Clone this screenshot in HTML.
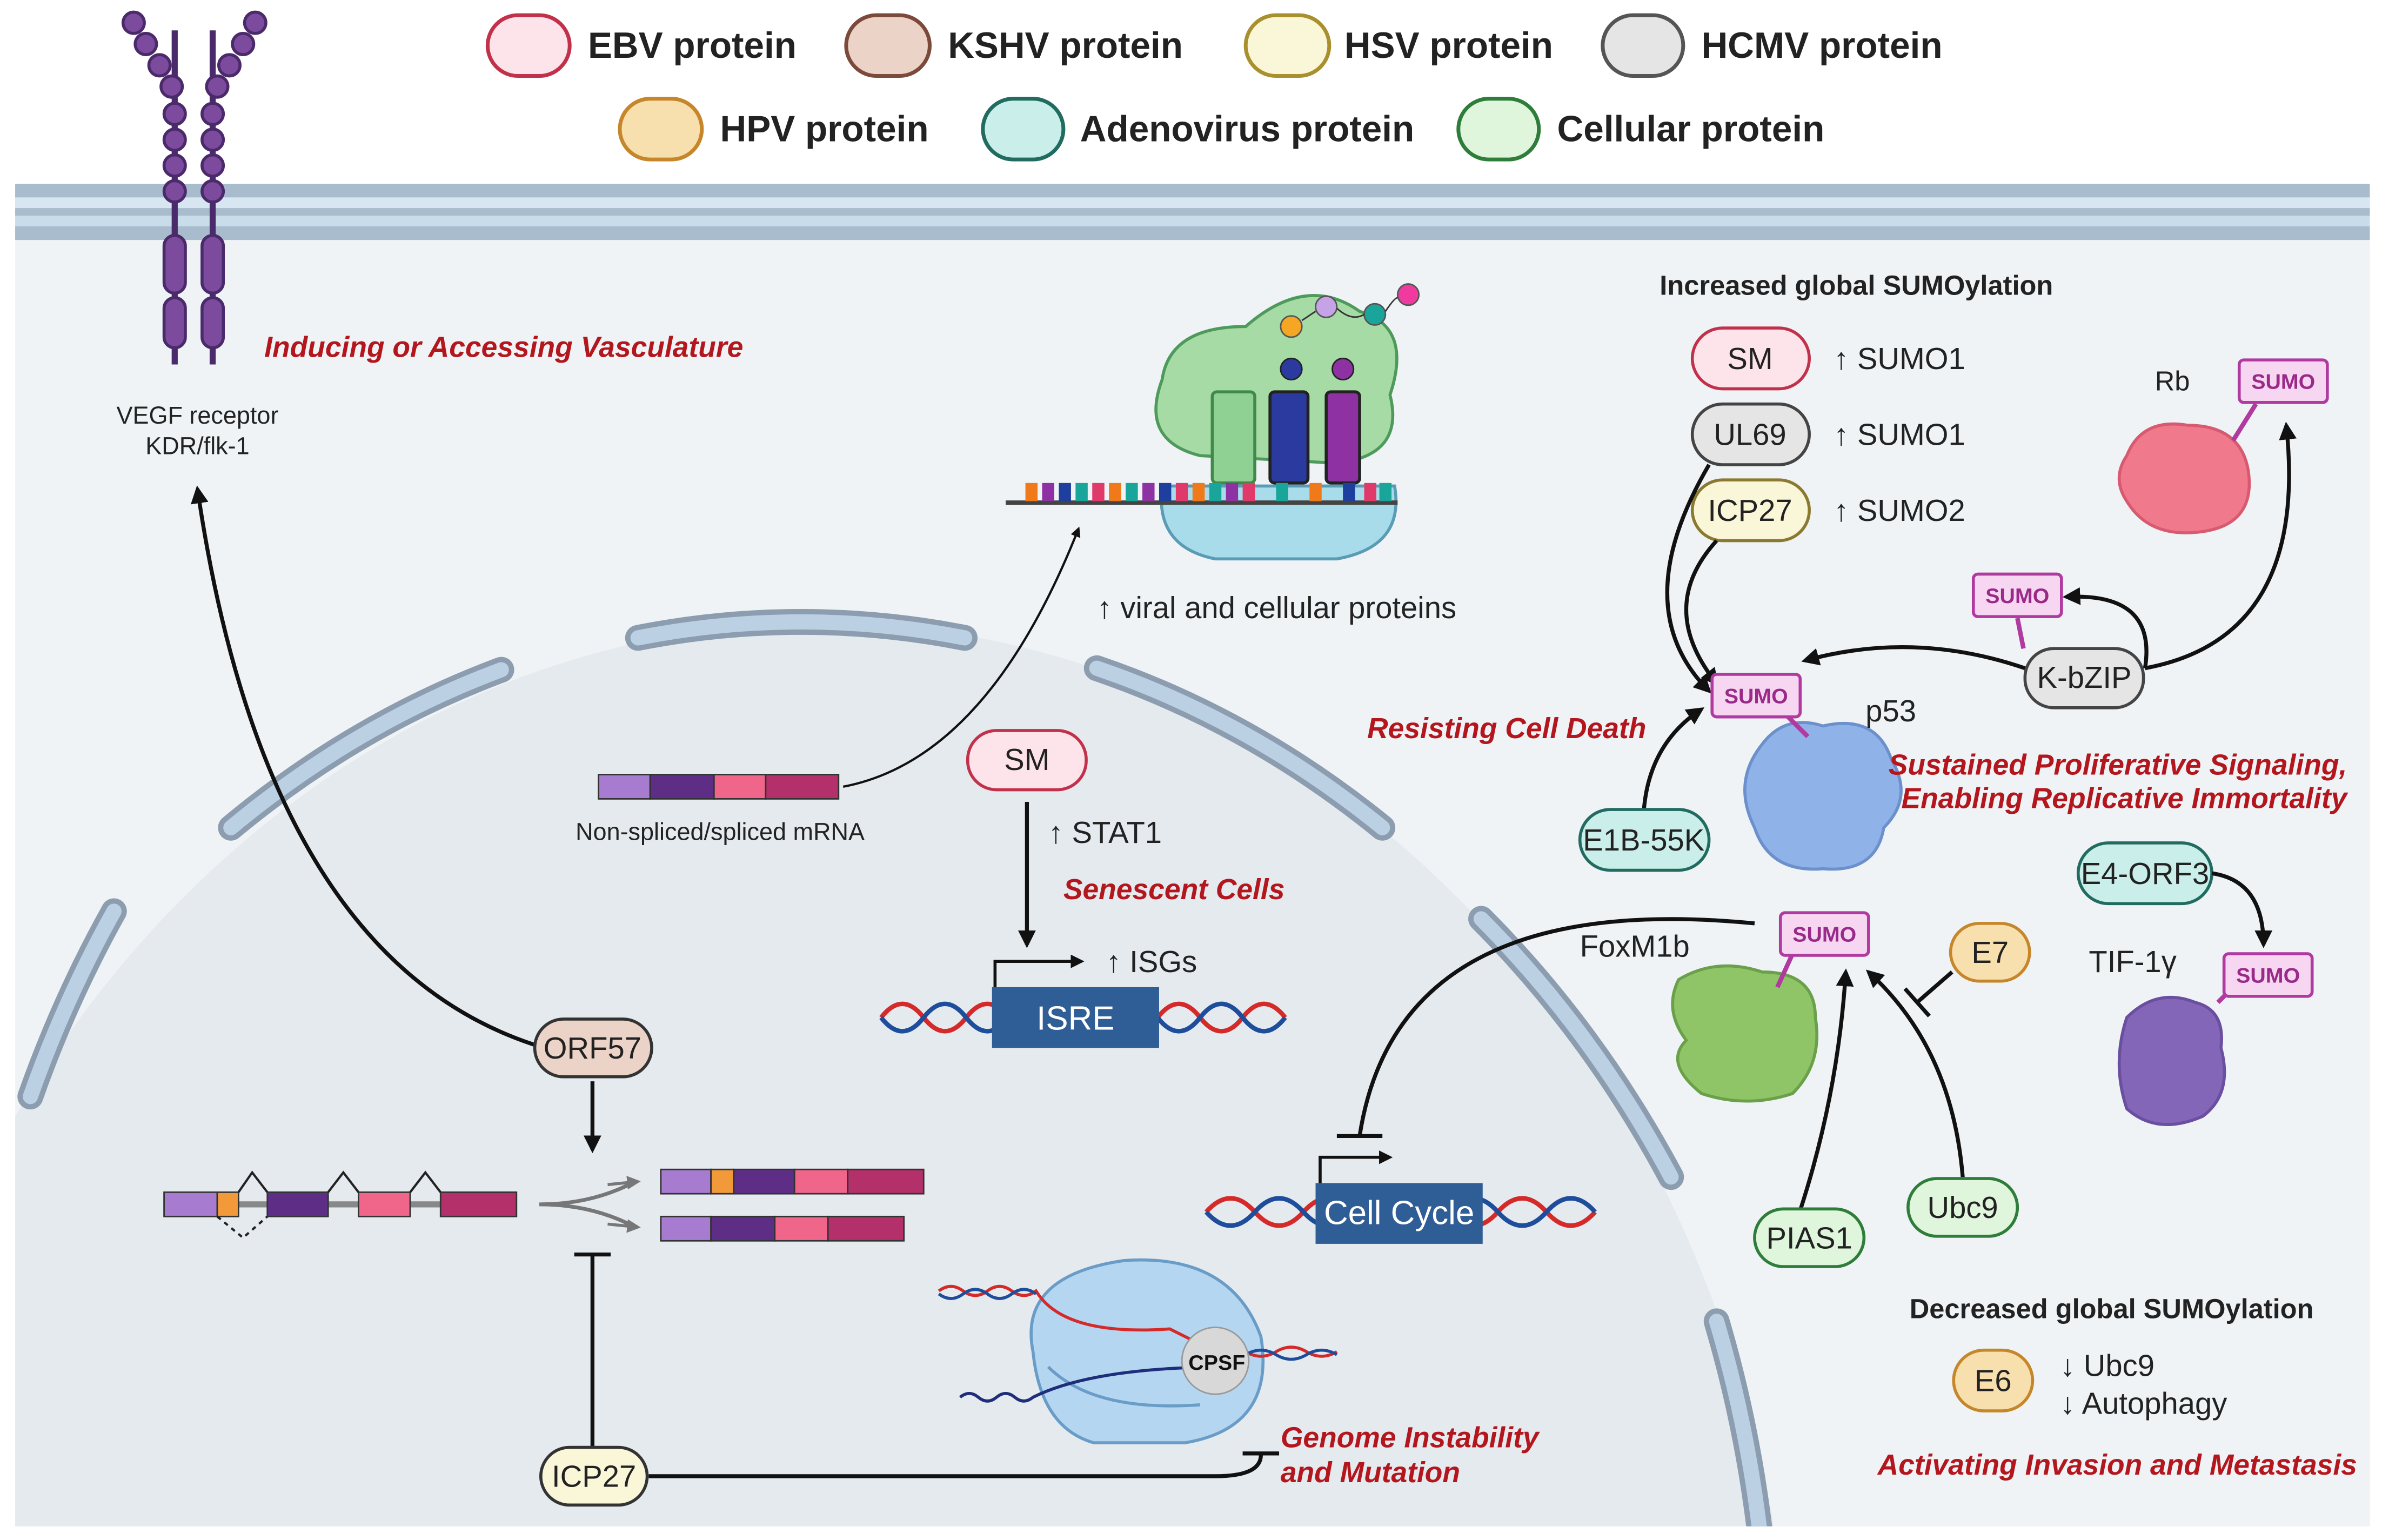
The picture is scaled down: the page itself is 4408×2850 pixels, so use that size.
<!DOCTYPE html>
<html><head><meta charset="utf-8"><style>
html,body{margin:0;padding:0;background:#fff;width:4408px;height:2850px;overflow:hidden}
svg{display:block}
text{font-family:"Liberation Sans",Arial,sans-serif}
.lg{font-size:24px;font-weight:bold;fill:#222}
.red{font-size:19px;font-weight:bold;font-style:italic;fill:#b3161d}
.t{font-size:20px;fill:#222}
.s{font-size:16px;fill:#222}
.sumo{font-size:14px;font-weight:bold;fill:#9a2a8a}
.ar{fill:none;stroke:#111;stroke-width:2.6}
</style></head><body>
<svg width="4408" height="2850" viewBox="0 0 1568 1014" preserveAspectRatio="none" xmlns="http://www.w3.org/2000/svg">
<defs>
<marker id="a" viewBox="0 0 10 10" refX="8" refY="5" markerWidth="4.5" markerHeight="4.5" orient="auto"><path d="M0,0L10,5L0,10z" fill="#111"/></marker>
<marker id="g" viewBox="0 0 10 10" refX="8" refY="5" markerWidth="4.5" markerHeight="4.5" orient="auto"><path d="M0,0L10,5L0,10z" fill="#777"/></marker>
<clipPath id="cell"><rect x="10" y="158" width="1550" height="847"/></clipPath>
</defs>
<rect width="1568" height="1014" fill="#fff"/>
<rect x="10" y="158" width="1550" height="847" fill="#eff3f6"/>
<g clip-path="url(#cell)">
<ellipse cx="540" cy="1150" rx="640" ry="740" fill="#e5eaee"/>
<g fill="none" stroke-linecap="round">
<g stroke="#8c9db0" stroke-width="17">
<path d="M20 722 A640 740 0 0 1 75 600"/><path d="M152 545 A640 740 0 0 1 330 441"/><path d="M420 420 A640 740 0 0 1 635 420"/><path d="M722 440 A640 740 0 0 1 910 545"/><path d="M975 605 A640 740 0 0 1 1100 775"/><path d="M1130 870 A640 740 0 0 1 1158 1005"/>
</g>
<g stroke="#bcd0e4" stroke-width="10">
<path d="M20 722 A640 740 0 0 1 75 600"/><path d="M152 545 A640 740 0 0 1 330 441"/><path d="M420 420 A640 740 0 0 1 635 420"/><path d="M722 440 A640 740 0 0 1 910 545"/><path d="M975 605 A640 740 0 0 1 1100 775"/><path d="M1130 870 A640 740 0 0 1 1158 1005"/>
</g></g>
</g>
<rect x="10" y="121" width="1550" height="37" fill="#c9dcea"/>
<rect x="10" y="121" width="1550" height="9" fill="#a8bccd"/>
<rect x="10" y="137" width="1550" height="5" fill="#a8bccd"/>
<rect x="10" y="149" width="1550" height="9" fill="#a8bccd"/>
<rect x="10" y="130" width="1550" height="7" fill="#d8e6f1"/>

<g stroke-width="2.5">
<rect x="321" y="10" width="54" height="40" rx="20" fill="#fde4ea" stroke="#c2314b"/>
<rect x="557" y="10" width="55" height="40" rx="20" fill="#ebd3c7" stroke="#7b4a3b"/>
<rect x="820" y="10" width="55" height="40" rx="20" fill="#faf6d8" stroke="#a8902e"/>
<rect x="1055" y="10" width="53" height="40" rx="20" fill="#e5e5e5" stroke="#555"/>
<rect x="408" y="65" width="54" height="40" rx="20" fill="#f8dfae" stroke="#c6862a"/>
<rect x="647" y="65" width="53" height="40" rx="20" fill="#caeee9" stroke="#226b60"/>
<rect x="960" y="65" width="53" height="40" rx="20" fill="#dff5dc" stroke="#2f7d3a"/>
</g>
<text class="lg" x="387" y="38">EBV protein</text>
<text class="lg" x="624" y="38">KSHV protein</text>
<text class="lg" x="885" y="38">HSV protein</text>
<text class="lg" x="1120" y="38">HCMV protein</text>
<text class="lg" x="474" y="93">HPV protein</text>
<text class="lg" x="711" y="93">Adenovirus protein</text>
<text class="lg" x="1025" y="93">Cellular protein</text>

<g stroke="#4b2a6b" stroke-width="2" fill="#7d4b9e">
<line x1="115" y1="20" x2="115" y2="240" stroke-width="4"/><line x1="140" y1="20" x2="140" y2="240" stroke-width="4"/>
<circle cx="88" cy="15" r="7"/><circle cx="96" cy="29" r="7"/><circle cx="105" cy="43" r="7"/><circle cx="113" cy="57" r="7"/>
<circle cx="168" cy="15" r="7"/><circle cx="160" cy="29" r="7"/><circle cx="151" cy="43" r="7"/><circle cx="143" cy="57" r="7"/>
<circle cx="115" cy="75" r="7"/><circle cx="115" cy="92" r="7"/><circle cx="115" cy="109" r="7"/><circle cx="115" cy="126" r="7"/>
<circle cx="140" cy="75" r="7"/><circle cx="140" cy="92" r="7"/><circle cx="140" cy="109" r="7"/><circle cx="140" cy="126" r="7"/>
<rect x="108" y="155" width="14" height="38" rx="7"/><rect x="133" y="155" width="14" height="38" rx="7"/>
<rect x="108" y="196" width="14" height="33" rx="7"/><rect x="133" y="196" width="14" height="33" rx="7"/>
</g>
<text class="s" x="130" y="279" text-anchor="middle">VEGF receptor</text>
<text class="s" x="130" y="299" text-anchor="middle">KDR/flk-1</text>
<text class="red" x="174" y="235">Inducing or Accessing Vasculature</text>

<path class="ar" d="M352 688 Q175 630 130 322" marker-end="url(#a)"/>
<rect x="352" y="671" width="77" height="38" rx="19" fill="#ebd3c7" stroke="#333" stroke-width="2"/>
<text class="t" x="390" y="697" text-anchor="middle">ORF57</text>
<path class="ar" d="M390 712 V757" marker-end="url(#a)"/>

<line x1="108" y1="793" x2="340" y2="793" stroke="#888" stroke-width="4"/>
<g stroke="#333" stroke-width="1">
<rect x="108" y="785" width="35" height="16" fill="#a77bd0"/>
<rect x="143" y="785" width="14" height="16" fill="#f29a3a"/>
<rect x="176" y="785" width="40" height="16" fill="#5e2e86"/>
<rect x="236" y="785" width="34" height="16" fill="#f0668b"/>
<rect x="290" y="785" width="50" height="16" fill="#b4306a"/>
</g>
<path d="M157 785 L166 772 L176 785 M216 785 L226 772 L236 785 M270 785 L280 772 L290 785" fill="none" stroke="#222" stroke-width="1.5"/>
<path d="M143 801 L160 815 L176 801" fill="none" stroke="#222" stroke-width="1.5" stroke-dasharray="3 3"/>
<path d="M355 793 Q390 793 418 778 M355 793 Q390 793 418 808" fill="none" stroke="#777" stroke-width="2.5"/>
<path d="M400 780 L420 778" stroke="#777" stroke-width="2" marker-end="url(#g)"/>
<path d="M400 806 L420 808" stroke="#777" stroke-width="2" marker-end="url(#g)"/>
<g stroke="#333" stroke-width="1">
<rect x="435" y="770" width="33" height="16" fill="#a77bd0"/><rect x="468" y="770" width="15" height="16" fill="#f29a3a"/><rect x="483" y="770" width="40" height="16" fill="#5e2e86"/><rect x="523" y="770" width="35" height="16" fill="#f0668b"/><rect x="558" y="770" width="50" height="16" fill="#b4306a"/>
<rect x="435" y="801" width="33" height="16" fill="#a77bd0"/><rect x="468" y="801" width="42" height="16" fill="#5e2e86"/><rect x="510" y="801" width="35" height="16" fill="#f0668b"/><rect x="545" y="801" width="50" height="16" fill="#b4306a"/>
</g>

<path class="ar" d="M390 955 V826 M378 826 H402"/>
<path class="ar" d="M427 972 H800 Q830 972 830 958 M818 957 H842"/>
<rect x="356" y="953" width="70" height="38" rx="19" fill="#faf6d8" stroke="#333" stroke-width="2"/>
<text class="t" x="391" y="979" text-anchor="middle">ICP27</text>

<g stroke="#333" stroke-width="1"><rect x="394" y="510" width="34" height="16" fill="#a77bd0"/><rect x="428" y="510" width="42" height="16" fill="#5e2e86"/><rect x="470" y="510" width="34" height="16" fill="#f0668b"/><rect x="504" y="510" width="48" height="16" fill="#b4306a"/></g>
<text class="s" x="474" y="553" text-anchor="middle">Non-spliced/spliced mRNA</text>
<path d="M555 518 Q650 500 710 348" fill="none" stroke="#111" stroke-width="1.5" marker-end="url(#a)"/>

<path d="M765 250 Q770 215 820 215 Q860 180 895 205 Q930 215 915 260 Q925 300 880 305 L790 300 Q750 290 765 250z" fill="#a6dba6" stroke="#4e9a5a" stroke-width="2"/>
<path d="M765 320 Q760 360 800 368 L880 368 Q925 360 918 320z" fill="#a9dcea" stroke="#5a9bb5" stroke-width="2"/>
<rect x="798" y="258" width="28" height="60" rx="3" fill="#8fd192" stroke="#3f8a4a" stroke-width="2"/>
<rect x="836" y="258" width="25" height="60" rx="3" fill="#2b3a9f" stroke="#222" stroke-width="2"/>
<rect x="873" y="258" width="22" height="60" rx="3" fill="#8e32a3" stroke="#222" stroke-width="2"/>
<circle cx="850" cy="243" r="7" fill="#2b3a9f" stroke="#222"/><circle cx="884" cy="243" r="7" fill="#8e32a3" stroke="#222"/>
<circle cx="850" cy="215" r="7" fill="#f5a623" stroke="#555"/><circle cx="873" cy="202" r="7" fill="#c6a3e6" stroke="#555"/><circle cx="905" cy="207" r="7" fill="#1aa59a" stroke="#555"/><circle cx="927" cy="194" r="7" fill="#f03aa0" stroke="#555"/>
<path d="M857 211 L866 205 M880 203 Q890 212 898 207 M912 205 Q918 196 920 196" stroke="#333" fill="none"/>
<line x1="662" y1="331" x2="920" y2="331" stroke="#444" stroke-width="3"/>
<g>
<rect x="675" y="318" width="8" height="12" fill="#f07a1a"/><rect x="686" y="318" width="8" height="12" fill="#8e32a3"/><rect x="697" y="318" width="8" height="12" fill="#1f3f9f"/><rect x="708" y="318" width="8" height="12" fill="#1aa59a"/><rect x="719" y="318" width="8" height="12" fill="#e03a6a"/><rect x="730" y="318" width="8" height="12" fill="#f07a1a"/><rect x="741" y="318" width="8" height="12" fill="#1aa59a"/><rect x="752" y="318" width="8" height="12" fill="#8e32a3"/><rect x="763" y="318" width="8" height="12" fill="#1f3f9f"/><rect x="774" y="318" width="8" height="12" fill="#e03a6a"/><rect x="785" y="318" width="8" height="12" fill="#f07a1a"/><rect x="796" y="318" width="8" height="12" fill="#1aa59a"/><rect x="807" y="318" width="8" height="12" fill="#8e32a3"/><rect x="818" y="318" width="8" height="12" fill="#e03a6a"/><rect x="840" y="318" width="8" height="12" fill="#1aa59a"/><rect x="862" y="318" width="8" height="12" fill="#f07a1a"/><rect x="884" y="318" width="8" height="12" fill="#1f3f9f"/><rect x="898" y="318" width="8" height="12" fill="#e03a6a"/><rect x="908" y="318" width="8" height="12" fill="#1aa59a"/>
</g>
<text class="t" x="722" y="407">↑ viral and cellular proteins</text>

<rect x="637" y="481" width="78" height="39" rx="19" fill="#fde4ea" stroke="#c2314b" stroke-width="2"/>
<text class="t" x="676" y="507" text-anchor="middle">SM</text>
<text class="t" x="690" y="555">↑ STAT1</text>
<path class="ar" d="M676 528 V622" marker-end="url(#a)"/>
<text class="red" x="700" y="592">Senescent Cells</text>
<path d="M580 670 q14 -18 28 0 t28 0 t28 0 M762 670 q14 -18 28 0 t28 0 t28 0" fill="none" stroke="#d42a2a" stroke-width="3"/>
<path d="M580 670 q14 18 28 0 t28 0 t28 0 M762 670 q14 18 28 0 t28 0 t28 0" fill="none" stroke="#1e4d9b" stroke-width="3"/>
<rect x="653" y="650" width="110" height="40" fill="#2f5d95"/>
<text x="708" y="678" text-anchor="middle" style="font-size:22px;fill:#fff">ISRE</text>
<path d="M655 650 V633 H712" fill="none" stroke="#111" stroke-width="2" marker-end="url(#a)"/>
<text class="t" x="728" y="640">↑ ISGs</text>

<path d="M794 798 q16 -18 32 0 t32 0 t32 0 t32 0 t32 0 t32 0 t32 0 t32 0" fill="none" stroke="#d42a2a" stroke-width="3"/>
<path d="M794 798 q16 18 32 0 t32 0 t32 0 t32 0 t32 0 t32 0 t32 0 t32 0" fill="none" stroke="#1e4d9b" stroke-width="3"/>
<rect x="866" y="779" width="110" height="40" fill="#2f5d95"/>
<text x="921" y="806" text-anchor="middle" style="font-size:22px;fill:#fff">Cell Cycle</text>
<path d="M869 779 V762 H915" fill="none" stroke="#111" stroke-width="2" marker-end="url(#a)"/>
<path class="ar" d="M1155 608 Q920 585 895 748 M880 748 H910"/>

<path d="M680 890 Q670 840 740 830 Q810 825 830 880 Q840 940 780 950 L720 950 Q685 940 680 890z" fill="#b5d6f0" stroke="#6a9cc8" stroke-width="2"/>
<path d="M690 900 Q720 930 790 925" fill="none" stroke="#6a9cc8" stroke-width="2"/>
<path d="M618 850 q8 -6 16 0 t16 0 t16 0 t16 0 Q700 880 770 875 L800 890 q10 -6 20 0 t20 0 t20 0 t20 0" fill="none" stroke="#d42a2a" stroke-width="2"/>
<path d="M618 852 q8 6 16 0 t16 0 t16 0 t16 0 M800 892 q10 6 20 0 t20 0 t20 0 t20 0" fill="none" stroke="#1e4d9b" stroke-width="2"/>
<path d="M632 920 q6 -5 12 0 t12 0 t12 0 t12 0 Q720 900 810 900" fill="none" stroke="#1e2e7a" stroke-width="2"/>
<circle cx="800" cy="896" r="22" fill="#d8d8d8" stroke="#999"/>
<text x="801" y="902" text-anchor="middle" style="font-size:14px;font-weight:bold;fill:#111">CPSF</text>
<text class="red" x="843" y="953">Genome Instability</text>
<text class="red" x="843" y="976">and Mutation</text>

<text x="1222" y="194" text-anchor="middle" style="font-size:18px;font-weight:bold;fill:#222">Increased global SUMOylation</text>
<rect x="1114" y="216" width="77" height="40" rx="20" fill="#fde4ea" stroke="#c2314b" stroke-width="2"/>
<text class="t" x="1152" y="243" text-anchor="middle">SM</text>
<rect x="1114" y="266" width="77" height="40" rx="20" fill="#e5e5e5" stroke="#444" stroke-width="2"/>
<text class="t" x="1152" y="293" text-anchor="middle">UL69</text>
<rect x="1114" y="316" width="77" height="40" rx="20" fill="#faf6d8" stroke="#8a7a30" stroke-width="2"/>
<text class="t" x="1152" y="343" text-anchor="middle">ICP27</text>
<text class="t" x="1207" y="243">↑ SUMO1</text>
<text class="t" x="1207" y="293">↑ SUMO1</text>
<text class="t" x="1207" y="343">↑ SUMO2</text>
<path class="ar" d="M1125 306 Q1070 400 1125 455" marker-end="url(#a)"/>
<path class="ar" d="M1130 356 Q1090 400 1130 450" marker-end="url(#a)"/>

<path d="M1160 490 Q1175 470 1200 478 Q1235 470 1245 500 Q1260 525 1240 545 Q1235 575 1200 572 Q1165 575 1155 545 Q1140 515 1160 490z" fill="#8fb3e8" stroke="#6b90cc" stroke-width="2"/>
<line x1="1170" y1="465" x2="1190" y2="485" stroke="#b03aa0" stroke-width="3"/>
<rect x="1127" y="444" width="58" height="28" rx="3" fill="#f7d6f1" stroke="#b03aa0" stroke-width="2"/>
<text class="sumo" x="1156" y="463" text-anchor="middle">SUMO</text>
<text class="t" x="1228" y="475">p53</text>
<text class="red" x="900" y="486">Resisting Cell Death</text>
<text class="red" x="1545" y="510" text-anchor="end">Sustained Proliferative Signaling,</text>
<text class="red" x="1545" y="532" text-anchor="end">Enabling Replicative Immortality</text>
<path class="ar" d="M1082 535 Q1085 490 1120 467" marker-end="url(#a)"/>
<rect x="1040" y="533" width="85" height="40" rx="20" fill="#caeee9" stroke="#226b60" stroke-width="2"/>
<text class="t" x="1082" y="560" text-anchor="middle">E1B-55K</text>

<path class="ar" d="M1333 440 Q1260 415 1188 435" marker-end="url(#a)"/>
<path class="ar" d="M1412 440 Q1420 390 1360 393" marker-end="url(#a)"/>
<path class="ar" d="M1412 440 Q1520 420 1505 280" marker-end="url(#a)"/>
<line x1="1328" y1="407" x2="1332" y2="427" stroke="#b03aa0" stroke-width="3"/>
<rect x="1299" y="378" width="58" height="28" rx="3" fill="#f7d6f1" stroke="#b03aa0" stroke-width="2"/>
<text class="sumo" x="1328" y="397" text-anchor="middle">SUMO</text>
<rect x="1333" y="427" width="78" height="39" rx="19" fill="#e5e5e5" stroke="#444" stroke-width="2"/>
<text class="t" x="1372" y="453" text-anchor="middle">K-bZIP</text>
<path d="M1400 300 Q1410 275 1440 280 Q1475 280 1480 310 Q1485 345 1450 350 Q1415 355 1400 330 Q1390 315 1400 300z" fill="#f07a8c" stroke="#d85a70" stroke-width="2"/>
<line x1="1470" y1="290" x2="1485" y2="266" stroke="#b03aa0" stroke-width="3"/>
<rect x="1474" y="237" width="58" height="28" rx="3" fill="#f7d6f1" stroke="#b03aa0" stroke-width="2"/>
<text class="sumo" x="1503" y="256" text-anchor="middle">SUMO</text>
<text class="t" x="1430" y="257" text-anchor="middle" style="font-size:18px">Rb</text>

<path d="M1105 645 Q1130 630 1160 640 Q1195 640 1195 670 Q1200 700 1180 720 Q1150 730 1120 720 Q1095 700 1110 685 Q1095 665 1105 645z" fill="#8fc467" stroke="#6aa04a" stroke-width="2"/>
<line x1="1180" y1="628" x2="1170" y2="650" stroke="#b03aa0" stroke-width="3"/>
<rect x="1172" y="601" width="58" height="28" rx="3" fill="#f7d6f1" stroke="#b03aa0" stroke-width="2"/>
<text class="sumo" x="1201" y="620" text-anchor="middle">SUMO</text>
<text class="t" x="1040" y="630">FoxM1b</text>
<path class="ar" d="M1285 640 L1262 660 M1254 651 L1270 669"/>
<rect x="1284" y="608" width="52" height="38" rx="19" fill="#f8dfae" stroke="#c6862a" stroke-width="2"/>
<text class="t" x="1310" y="634" text-anchor="middle">E7</text>
<path class="ar" d="M1185 797 Q1210 720 1215 640" marker-end="url(#a)"/>
<path class="ar" d="M1292 775 Q1285 690 1230 640" marker-end="url(#a)"/>
<rect x="1155" y="796" width="72" height="38" rx="19" fill="#dff5dc" stroke="#2f7d3a" stroke-width="2"/>
<text class="t" x="1191" y="822" text-anchor="middle">PIAS1</text>
<rect x="1256" y="776" width="72" height="38" rx="19" fill="#dff5dc" stroke="#2f7d3a" stroke-width="2"/>
<text class="t" x="1292" y="802" text-anchor="middle">Ubc9</text>

<rect x="1368" y="555" width="88" height="40" rx="20" fill="#caeee9" stroke="#226b60" stroke-width="2"/>
<text class="t" x="1412" y="582" text-anchor="middle">E4-ORF3</text>
<path class="ar" d="M1456 575 Q1490 580 1490 622" marker-end="url(#a)"/>
<text class="t" x="1375" y="640">TIF-1γ</text>
<path d="M1400 670 Q1420 650 1445 660 Q1465 665 1462 690 Q1470 720 1450 735 Q1420 748 1400 730 Q1390 700 1400 670z" fill="#8466b8" stroke="#6a4ea0" stroke-width="2"/>
<line x1="1460" y1="660" x2="1470" y2="650" stroke="#b03aa0" stroke-width="3"/>
<rect x="1464" y="628" width="58" height="28" rx="3" fill="#f7d6f1" stroke="#b03aa0" stroke-width="2"/>
<text class="sumo" x="1493" y="647" text-anchor="middle">SUMO</text>

<text x="1390" y="868" text-anchor="middle" style="font-size:18px;font-weight:bold;fill:#222">Decreased global SUMOylation</text>
<rect x="1286" y="889" width="52" height="40" rx="20" fill="#f8dfae" stroke="#c6862a" stroke-width="2"/>
<text class="t" x="1312" y="916" text-anchor="middle">E6</text>
<text class="t" x="1356" y="906">↓ Ubc9</text>
<text class="t" x="1356" y="931">↓ Autophagy</text>
<text class="red" x="1236" y="971">Activating Invasion and Metastasis</text>
</svg>
</body></html>
